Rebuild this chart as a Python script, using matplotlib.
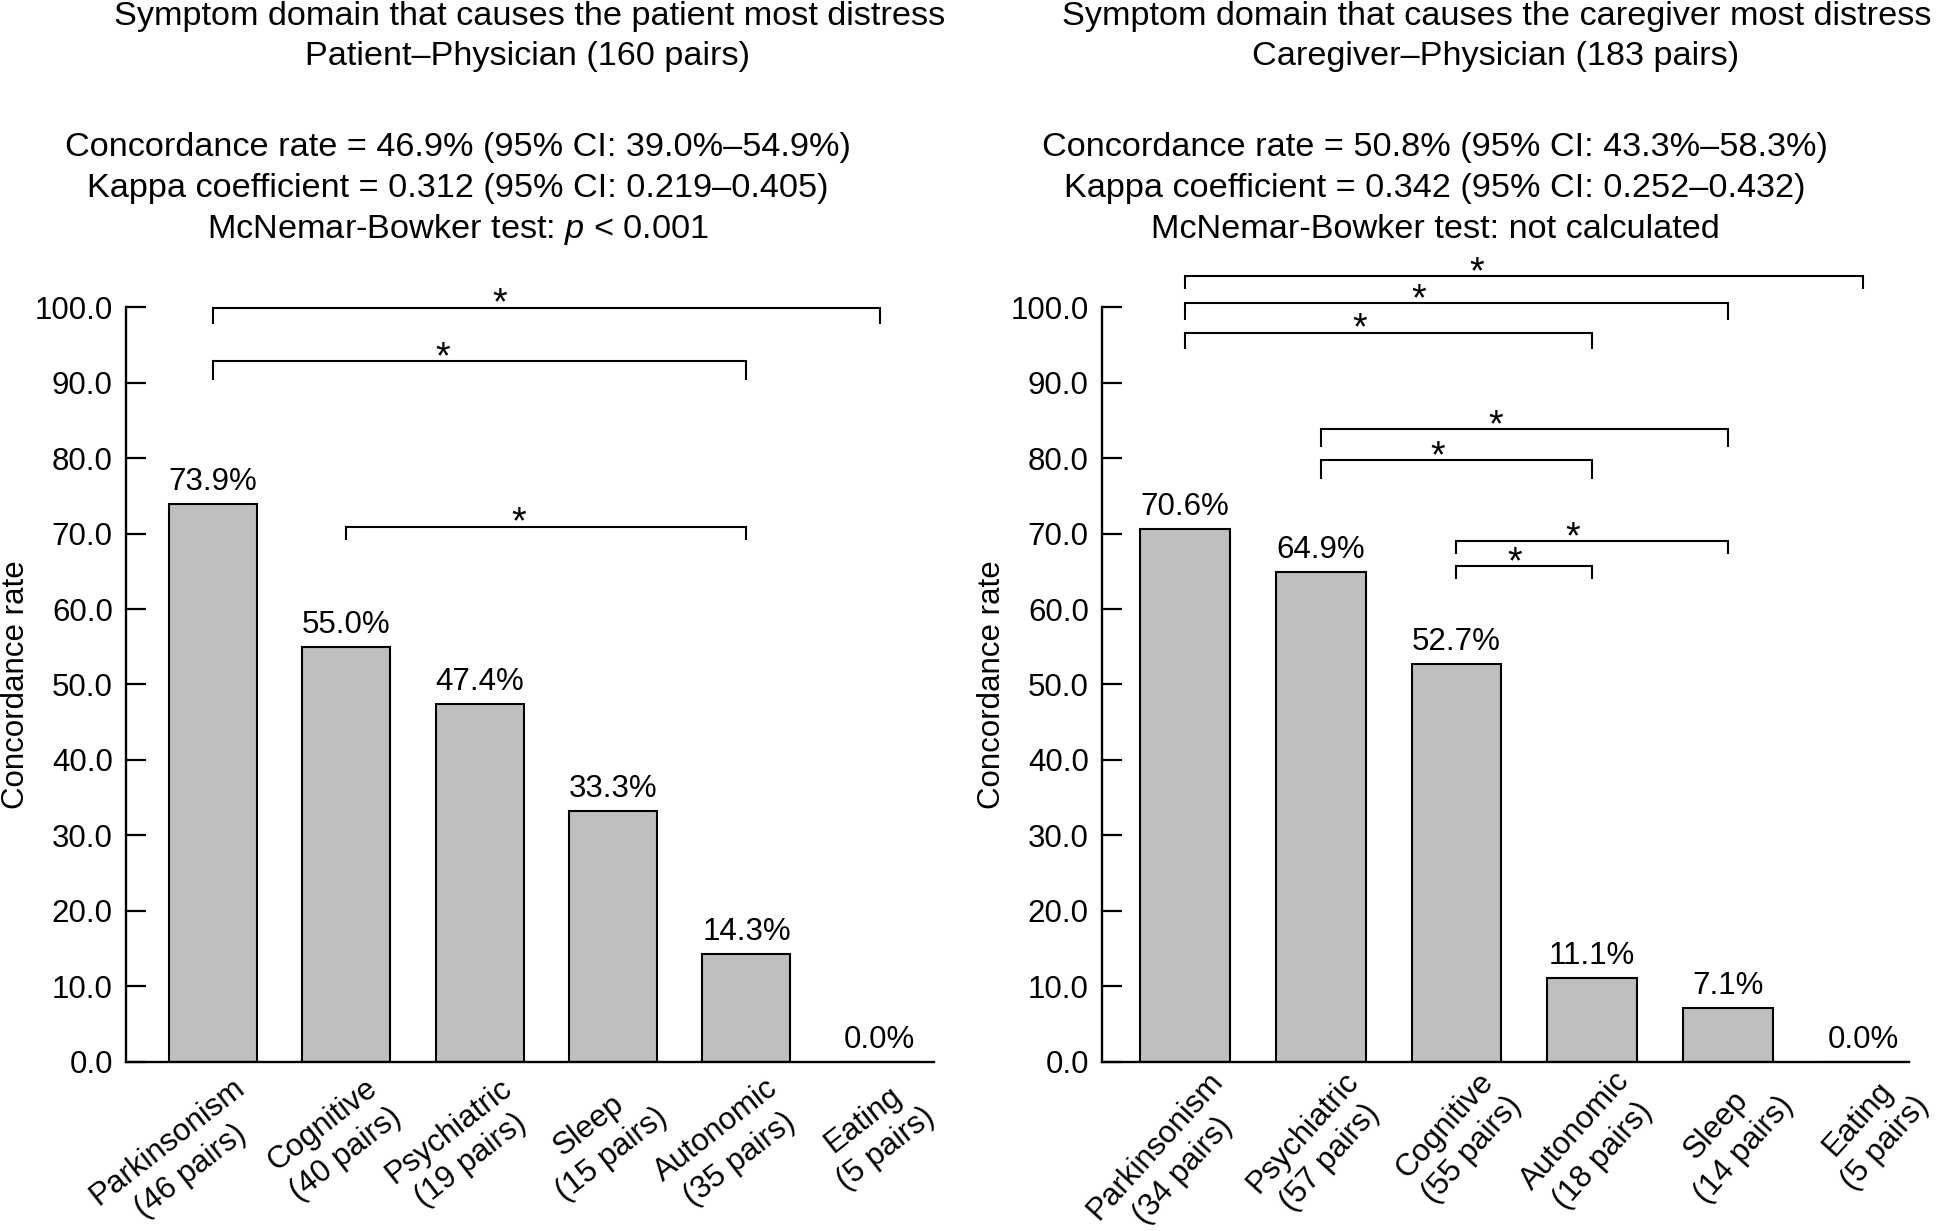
import math
import matplotlib
matplotlib.use("Agg")
import matplotlib.pyplot as plt
from matplotlib import transforms

plt.rcParams['font.family'] = ['Liberation Sans', 'DejaVu Sans']
plt.rcParams['mathtext.fontset'] = 'custom'
plt.rcParams['mathtext.rm'] = 'Liberation Sans'
plt.rcParams['mathtext.it'] = 'Liberation Sans:italic'

# ---------------- data ----------------
left_categories = ["Parkinsonism\n(46 pairs)", "Cognitive\n(40 pairs)", "Psychiatric\n(19 pairs)",
                   "Sleep\n(15 pairs)", "Autonomic\n(35 pairs)", "Eating\n(5 pairs)"]
left_values = [73.9, 55.0, 47.4, 33.3, 14.3, 0.0]

right_categories = ["Parkinsonism\n(34 pairs)", "Psychiatric\n(57 pairs)", "Cognitive\n(55 pairs)",
                    "Autonomic\n(18 pairs)", "Sleep\n(14 pairs)", "Eating\n(5 pairs)"]
right_values = [70.6, 64.9, 52.7, 11.1, 7.1, 0.0]

yticks = [0, 10, 20, 30, 40, 50, 60, 70, 80, 90, 100]

left_title = ["Symptom domain that causes the patient most distress", "Patient\u2013Physician (160 pairs)"]
left_stats = ["Concordance rate = 46.9% (95% CI: 39.0%\u201354.9%)",
              "Kappa coefficient = 0.312 (95% CI: 0.219\u20130.405)",
              "McNemar-Bowker test: $p$ < 0.001"]
right_title = ["Symptom domain that causes the caregiver most distress", "Caregiver\u2013Physician (183 pairs)"]
right_stats = ["Concordance rate = 50.8% (95% CI: 43.3%\u201358.3%)",
               "Kappa coefficient = 0.342 (95% CI: 0.252\u20130.432)",
               "McNemar-Bowker test: not calculated"]

# significant pairwise comparisons (category indices)
left_pairs = [(0, 5), (0, 4), (1, 4)]
right_pairs = [(0, 5), (0, 4), (0, 3), (1, 4), (1, 3), (2, 4), (2, 3)]

# bracket layout (heights and tick drops in data units)
left_bracket_y = [99.9, 92.8, 70.9]
left_bracket_drop = [2.2, 2.5, 1.8]
right_bracket_y = [104.1, 100.5, 96.6, 83.8, 79.7, 69.0, 65.7]
right_bracket_drop = [1.7, 2.2, 2.2, 2.3, 2.5, 1.7, 1.7]

W, H, DPI = 19.44, 12.31, 100
fig = plt.figure(figsize=(W, H), dpi=DPI)
renderer = fig.canvas.get_renderer()

FS = 22.5
HFS = 24.7
PITCH = 37.0  # line pitch of category labels, pixels


def px(x, y):
    return x / 1944.0, 1 - y / 1231.0


def text_width(s):
    t = fig.text(0, 0, s, fontsize=FS)
    w = t.get_window_extent(renderer).width
    t.remove()
    return w


def panel(rect, cats, vals, xlim, pairs, by, bdrop, rot, anchor_px):
    ax = fig.add_axes(rect)
    x = list(range(len(cats)))
    ax.bar(x, vals, width=0.66, color='#bfbfbf', edgecolor='black', linewidth=1.5, zorder=2)
    ax.set_xlim(*xlim)
    ax.set_ylim(0, 100)
    ax.set_yticks(yticks)
    ax.set_yticklabels([f"{t:.1f}" for t in yticks])
    ax.tick_params(axis='y', direction='in', length=14.5, width=1.6, pad=9.5, labelsize=FS)
    ax.tick_params(axis='x', length=0, labelbottom=False)
    for s in ['top', 'right']:
        ax.spines[s].set_visible(False)
    for s in ['left', 'bottom']:
        ax.spines[s].set_linewidth(1.7)
    ax.spines['left'].set_bounds(0, 100)
    ax.set_ylabel("Concordance rate", fontsize=FS)
    ax.yaxis.set_label_coords(-0.118, 0.5)
    # value labels
    for xi, v in zip(x, vals):
        ax.annotate(f"{v:.1f}%", xy=(xi, v), xytext=(0, 5), textcoords='offset points',
                    ha='center', va='bottom', fontsize=FS)
    # category labels: right-anchored block, lines centred on each other
    th = math.radians(rot)
    u = (math.cos(th), math.sin(th))
    n = (math.sin(th), -math.cos(th))
    for xi, c in zip(x, cats):
        lines = c.split("\n")
        wmax = max(text_width(s) for s in lines)
        for k, s in enumerate(lines):
            d = (k + 0.5) * PITCH
            ox = anchor_px[0] - 0.5 * wmax * u[0] + d * n[0]
            oy = anchor_px[1] - 0.5 * wmax * u[1] + d * n[1]
            tr = transforms.offset_copy(ax.transData, fig=fig, x=ox, y=oy, units='dots')
            ax.text(xi, 0, s, transform=tr, rotation=rot, rotation_mode='anchor',
                    ha='center', va='center', fontsize=FS)
    # brackets
    for (a, b), yy, d in zip(pairs, by, bdrop):
        ax.plot([a, a, b, b], [yy - d, yy, yy, yy - d], color='black', lw=1.5,
                clip_on=False, solid_capstyle='butt', solid_joinstyle='miter')
        xs = a + 0.43 * (b - a)
        ax.annotate('*', xy=(xs, yy), xytext=(0, -5), textcoords='offset points',
                    ha='center', va='baseline', fontsize=27, annotation_clip=False)
    return ax


ax1 = panel([0.0648, 0.1373, 0.4156, 0.6133], left_categories, left_values, (-0.654, 5.406),
            left_pairs, left_bracket_y, left_bracket_drop, 38, (17, -8))
ax2 = panel([0.5669, 0.1373, 0.4151, 0.6133], right_categories, right_values, (-0.612, 5.336),
            right_pairs, right_bracket_y, right_bracket_drop, 48, (19, -2))

# header texts
for cx, cy, t in [(530, 25, left_title[0]), (527, 65, left_title[1]),
                  (1497, 25, right_title[0]), (1496, 65, right_title[1])]:
    fx, fy = px(cx, cy)
    fig.text(fx, fy, t, ha='center', va='baseline', fontsize=HFS)
for cx, lines in [(458, left_stats), (1435, right_stats)]:
    for cy, t in zip([156, 197, 238], lines):
        fx, fy = px(cx, cy)
        fig.text(fx, fy, t, ha='center', va='baseline', fontsize=HFS)

fig.savefig("out.png", dpi=DPI)
